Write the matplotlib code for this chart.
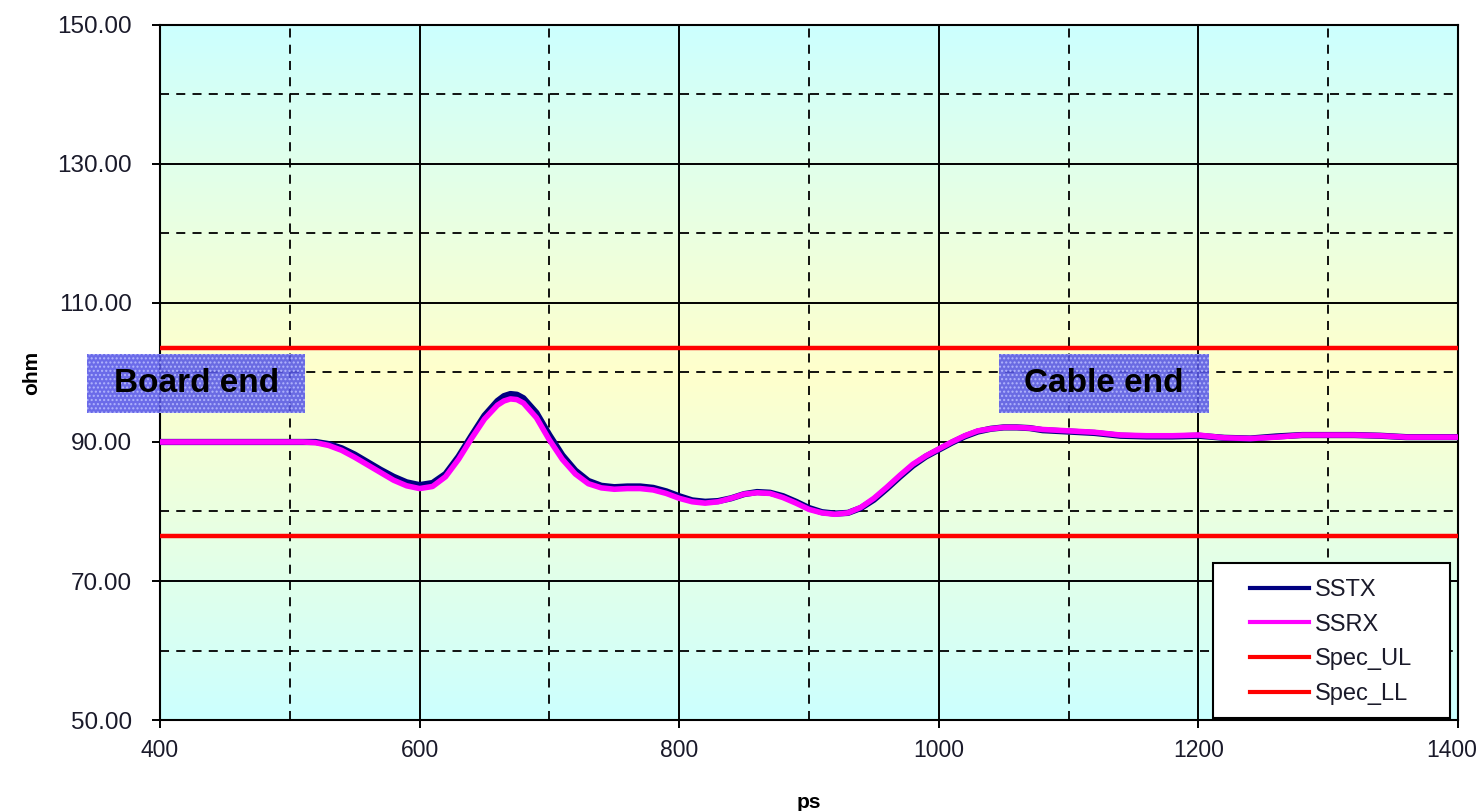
from matplotlib import pyplot as plt
from matplotlib.patches import Rectangle
from matplotlib.transforms import ScaledTranslation
import numpy as np

# Impedance profile (ohm) versus time (ps)
ps = [400, 450, 500, 510, 520, 530, 540, 550, 560, 570, 580, 590, 600,
      610, 620, 630, 640, 650, 660, 665, 670, 675, 680, 690, 700, 710,
      720, 730, 740, 750, 760, 770, 780, 790, 800, 810, 820, 830, 840,
      850, 860, 870, 880, 890, 900, 910, 920, 930, 940, 950, 960, 970,
      980, 990, 1000, 1010, 1020, 1030, 1040, 1050, 1060, 1070, 1080,
      1100, 1120, 1140, 1160, 1180, 1200, 1220, 1240, 1260, 1280, 1300,
      1320, 1340, 1360, 1380, 1400]

sstx = [90.0, 90.0, 90.0, 90.0, 90.0, 89.7, 89.1, 88.2, 87.1, 86.0, 85.0,
        84.2, 83.8, 84.1, 85.4, 87.9, 90.9, 93.8, 95.9, 96.6, 96.9, 96.8,
        96.3, 94.2, 91.0, 88.1, 85.9, 84.4, 83.7, 83.5, 83.6, 83.6, 83.4,
        82.9, 82.2, 81.6, 81.4, 81.5, 81.9, 82.5, 82.8, 82.7, 82.2, 81.4,
        80.5, 79.9, 79.7, 79.8, 80.5, 81.7, 83.3, 85.0, 86.6, 87.9, 88.9,
        89.9, 90.8, 91.5, 91.9, 92.1, 92.1, 92.0, 91.7, 91.5, 91.3, 90.9,
        90.8, 90.8, 90.9, 90.6, 90.5, 90.8, 91.0, 91.0, 91.0, 90.9, 90.7,
        90.7, 90.7]

ssrx = [90.0, 90.0, 90.0, 90.0, 89.9, 89.5, 88.8, 87.8, 86.7, 85.6, 84.5,
        83.7, 83.3, 83.6, 85.0, 87.5, 90.5, 93.3, 95.3, 95.9, 96.2, 96.1,
        95.6, 93.5, 90.3, 87.5, 85.4, 84.0, 83.4, 83.2, 83.3, 83.3, 83.1,
        82.6, 81.9, 81.4, 81.2, 81.4, 81.9, 82.5, 82.7, 82.6, 82.0, 81.2,
        80.3, 79.8, 79.6, 79.8, 80.6, 81.9, 83.5, 85.2, 86.8, 88.0, 89.0,
        90.0, 90.9, 91.6, 91.9, 92.1, 92.1, 92.0, 91.8, 91.6, 91.4, 91.0,
        90.9, 90.9, 91.0, 90.6, 90.5, 90.7, 91.0, 91.0, 91.0, 90.9, 90.7,
        90.7, 90.7]

spec_ul = 103.5
spec_ll = 76.5

plt.rcParams["font.family"] = ["Liberation Sans", "DejaVu Sans"]

fig = plt.figure(figsize=(14.81, 8.11), dpi=100)
ax = fig.add_axes([0.108, 0.1122, 0.8765, 0.857])

# cyan -> yellow -> cyan plot-area fill
cyan = np.array([204, 255, 255]) / 255
yellow = np.array([255, 255, 204]) / 255
w = 1 - np.abs(np.linspace(-1, 1, 256))
grad = cyan[None, :] * (1 - w[:, None]) + yellow[None, :] * w[:, None]
ax.imshow(grad[:, None, :], extent=[400, 1400, 50, 150], aspect="auto",
          origin="lower", zorder=0, interpolation="bilinear")

ax.set_xlim(400, 1400)
ax.set_ylim(50, 150)
ax.set_xticks(np.arange(400, 1401, 200))
ax.set_xticks(np.arange(500, 1400, 200), minor=True)
ax.set_yticks(np.arange(50, 151, 20))
ax.set_yticks(np.arange(60, 150, 20), minor=True)
ax.set_yticklabels([f"{v:.2f}" for v in np.arange(50, 151, 20)])

ax.grid(which="major", color="black", linewidth=1.4, linestyle="-")
ax.grid(which="minor", color="black", linewidth=1.3, linestyle=(0, (5, 4)))
ax.tick_params(which="major", direction="out", length=6, width=1.4,
               labelsize=17.5, labelcolor="#1a1a2a")
ax.tick_params(axis="y", pad=14)
ax.tick_params(axis="x", pad=8, labelsize=16.5)
ax.tick_params(which="minor", length=0)
for s in ax.spines.values():
    s.set_linewidth(1.5)
    s.set_color("black")

# keep the last x label inside the figure
last = ax.get_xticklabels()[-1]
last.set_transform(last.get_transform()
                   + ScaledTranslation(-6 / 100, 0, fig.dpi_scale_trans))

ax.plot(ps, sstx, color="#000080", linewidth=4.5, label="SSTX", zorder=3,
        solid_joinstyle="round")
ax.plot(ps, ssrx, color="#ff00ff", linewidth=4, label="SSRX", zorder=3.1,
        solid_joinstyle="round")
ax.plot([400, 1400], [spec_ul] * 2, color="#ff0000", linewidth=3.2,
        label="Spec_UL", zorder=3)
ax.plot([400, 1400], [spec_ll] * 2, color="#ff0000", linewidth=3.2,
        label="Spec_LL", zorder=3)

# end markers
for x0, x1, txt in [(344, 512, "Board end"), (1046, 1208, "Cable end")]:
    box = Rectangle((x0, 94.2), x1 - x0, 8.5, facecolor="#5656e6",
                    edgecolor="#b8bcff", hatch="....", linewidth=0,
                    alpha=0.88, clip_on=False, zorder=4)
    ax.add_patch(box)
    ax.text((x0 + x1) / 2, 98.45, txt, ha="center", va="center",
            fontsize=24, fontweight="bold", color="black", zorder=5,
            clip_on=False)

ax.set_xlabel("ps", fontsize=15, fontweight="bold", labelpad=22)
ax.set_ylabel("ohm", fontsize=15, fontweight="bold", labelpad=12)

# legend: white framed box with the entries placed inside
ax.add_patch(Rectangle((0.8112, 0.003), 0.1826, 0.223,
                       transform=ax.transAxes, facecolor="white",
                       edgecolor="black", linewidth=1.5, zorder=6))
leg = ax.legend(loc="upper left", bbox_to_anchor=(0.8395, 0.203),
                borderaxespad=0, borderpad=0, frameon=False, fontsize=17,
                handlelength=2.5, labelspacing=0.54, handletextpad=0.25)
for t in leg.get_texts():
    t.set_color("#1a1a2a")
for h in leg.get_lines():
    h.set_linewidth(3)
leg.set_zorder(7)

fig.savefig("out.png", dpi=100)
